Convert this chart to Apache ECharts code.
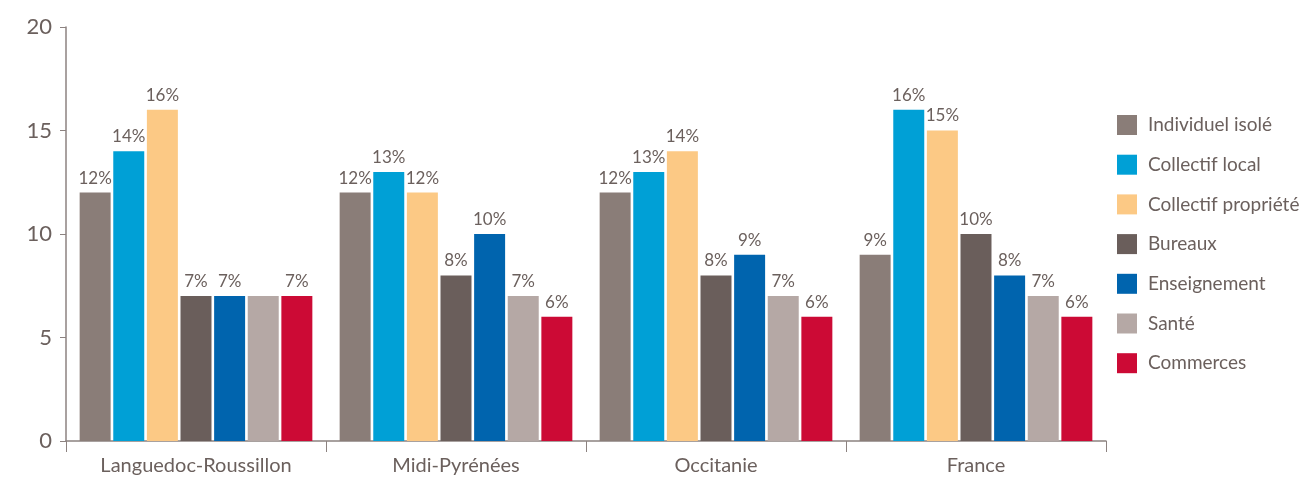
<!DOCTYPE html>
<html>
<head>
<meta charset="utf-8">
<script src="https://cdn.jsdelivr.net/npm/echarts@6/dist/echarts.min.js"></script>
<style>
  html, body { margin: 0; padding: 0; background: #fff; }
  #chart { width: 1304px; height: 480px; }
</style>
</head>
<body>
<div id="chart"></div>
<script>
const regions = ['Languedoc-Roussillon', 'Midi-Pyrénées', 'Occitanie', 'France'];
const seriesNames = ['Individuel isolé', 'Collectif local', 'Collectif propriété', 'Bureaux', 'Enseignement', 'Santé', 'Commerces'];
const colors = ['#8a7d78', '#00a0d6', '#fcc985', '#6a5e5b', '#0064ae', '#b5a8a5', '#cc0a35'];

// one array per series, in region order
const individuelIsole = [12, 12, 12, 9];
const collectifLocal = [14, 13, 13, 16];
const collectifPropriete = [16, 12, 14, 15];
const bureaux = [7, 8, 8, 10];
const enseignement = [7, 10, 9, 8];
const sante = [7, 7, 7, 7];
const commerces = [7, 6, 6, 6];

// the source omits the label on Santé / Languedoc-Roussillon
const hiddenLabels = { 'Santé': [0] };

const values = [individuelIsole, collectifLocal, collectifPropriete, bureaux, enseignement, sante, commerces];
const yTicks = [0, 5, 10, 15, 20];

const textColor = '#6b605d';
const axisColor = '#8c8280';
const fontFamily = 'Lato, "Noto Sans", sans-serif';

const chart = echarts.init(document.getElementById('chart'), null, { renderer: 'canvas' });

const series = seriesNames.map((name, i) => ({
    name: name,
    type: 'bar',
    barGap: '8.5%',
    barCategoryGap: '10.5%',
    itemStyle: { color: colors[i] },
    label: {
        show: true,
        position: 'top',
        distance: 6,
        color: textColor,
        fontFamily: fontFamily,
        fontSize: 17,
        formatter: '{c}%'
    },
    data: values[i].map((v, j) => {
        const hide = hiddenLabels[name] && hiddenLabels[name].includes(j);
        return hide ? { value: v, label: { show: false } } : v;
    })
}));

chart.setOption({
    animation: false,
    backgroundColor: '#fff',
    textStyle: { fontFamily: fontFamily },
    grid: { left: 66, right: 198, top: 27, bottom: 39 },
    legend: {
        orient: 'vertical',
        left: 1112,
        top: 110,
        itemWidth: 20,
        itemHeight: 20,
        itemGap: 19.7,
        icon: 'rect',
        textStyle: { color: textColor, fontSize: 19, fontFamily: fontFamily, padding: [0, 0, 0, 6] },
        data: seriesNames
    },
    xAxis: {
        type: 'category',
        data: regions,
        axisLine: { lineStyle: { color: axisColor, width: 1.5 } },
        axisTick: { show: true, interval: 0, length: 11, lineStyle: { color: axisColor } },
        axisLabel: { interval: 0, color: textColor, fontSize: 20, margin: 15, fontFamily: fontFamily }
    },
    yAxis: {
        type: 'value',
        min: yTicks[0],
        max: yTicks[yTicks.length - 1],
        interval: 5,
        splitLine: { show: false },
        axisLine: { show: true, lineStyle: { color: axisColor, width: 1.5 } },
        axisTick: { show: true, length: 6, lineStyle: { color: axisColor } },
        axisLabel: { color: textColor, fontSize: 22, margin: 14, fontFamily: fontFamily }
    },
    series: series
});
</script>
</body>
</html>
